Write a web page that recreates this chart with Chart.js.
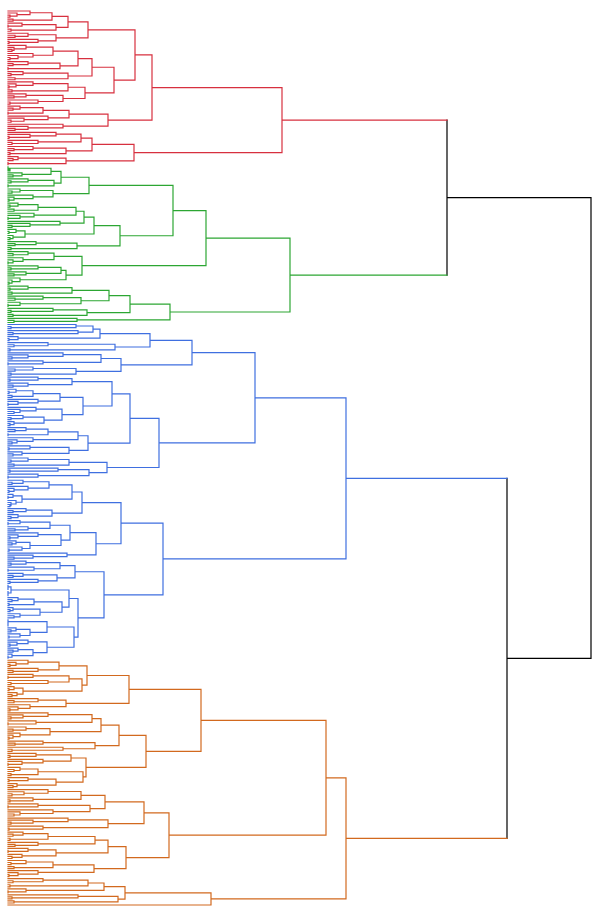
<!DOCTYPE html>
<html>
<head>
<meta charset="utf-8">
<script src="https://cdn.jsdelivr.net/npm/chart.js@4/dist/chart.umd.min.js"></script>
<style>
html,body{margin:0;padding:0;background:#fff;}
#wrap{width:592px;height:906px;position:relative;}
</style>
</head>
<body>
<div id="wrap"><canvas id="c"></canvas></div>
<script>
// Sub-trees written as "(height left right)"; a leaf is "."
// red cluster parts
const redA = "(80 (60 (44 (22 . (9 . (2 . .))) (5 . .)) (48 (14 . (0 . .)) (3 . .))) (48 (20 . (7 . .)) (30 . (1 . .))))";
const redB = "(106 (84 (70 (45 (18 . (6 . (4 . .))) (25 . (10 . (2 . .)))) (52 (20 . (5 . .)) (0 . .))) (60 (15 . (3 . .)) (7 . .))) (77 (60 (25 . (8 . (1 . .))) (4 . .)) (55 (18 . (6 . .)) (30 . (2 . .)))))";
const redC = "(100 (61 (35 (12 . (5 . .)) (0 . .)) (40 . (16 . (3 . .)))) (55 . (20 . (7 . .))))";
const redD = "(126 (84 (73 (48 . (22 . (1 . .))) (30 . (4 . .))) (58 (25 . (6 . .)) (2 . .))) (58 (10 . (5 . .)) (0 . .)))";
const redTree = `(274 (144 (127 ${redA} ${redB}) ${redC}) ${redD})`;

// green cluster parts
const greenA = "(81 (53 (43 (0 . (2 . .)) (14 . (5 . .))) (46 (20 . (3 . .)) (0 . .))) (45 (12 . (4 . .)) (25 . (6 . (1 . .)))))";
const greenB = "(112 (86 (76 (68 (30 (10 . (2 . .)) (6 . .)) (26 . (12 . (0 . .)))) (52 . (22 . (4 . .)))) (17 (8 . (1 . .)) (5 . (2 . .)))) (69 (28 . (7 . .)) (3 . .)))";
const greenC = "(74 (46 (20 . (5 . .)) (15 . (5 . (0 . .)))) (58 (53 (30 . (3 . .)) (18 . (6 . .))) (12 . (4 . (1 . .)))))";
const greenD = "(162 (122 (101 (64 (20 . (2 . .)) (4 . .)) (73 (35 . (7 . .)) (12 . (0 . .)))) (79 (45 . (3 . .)) (5 . .))) (69 . (6 . .)))";
const greenTree = `(282 (198 (165 ${greenA} ${greenB}) ${greenC}) ${greenD})`;

// blue cluster parts
const blueA = "(184 (142 (92 (85 (68 . (3 . .)) (70 . (5 . .))) (10 . (1 . .))) (107 (40 . (6 . .)) (2 . .))) (113 (93 (55 . (20 . (4 . .))) (35 . (0 . .))) (68 (25 . (7 . .)) (3 . .))))";
const blueB = "(151 (122 (104 (64 (30 . (2 . .)) (20 . (5 . .))) (75 (52 (25 (8 . (1 . .)) (4 . .)) (30 . (10 . (0 . .)))) (54 (28 . (12 . (6 . .))) (36 (15 . (3 . .)) (6 . (2 . .)))))) (80 (70 (40 (18 . (7 . .)) (0 . .)) (25 . (9 . (4 . .)))) (61 (22 . (1 . .)) (14 . (5 . .))))) (99 (61 (20 . (3 . .)) (6 . .)) (81 (50 . (2 . .)) (30 . (0 . .)))))";
const blueC = "(113 (74 (64 (41 (15 . (4 . .)) (20 . (6 . (1 . .)))) (14 (5 . (0 . .)) (8 . (3 . (2 . .))))) (44 (18 . (5 . .)) (10 . (3 . .)))) (88 (62 (42 (12 . (0 . .)) (20 . (7 . .))) (53 (30 . (10 . (2 . .))) (22 (8 . (4 . .)) (14 . (1 . .))))) (59 . (25 . (6 . .)))))";
const blueD = "(96 (67 (52 (18 . (3 . .)) (26 . (0 . .))) (49 (15 . (5 . .)) (30 . (2 . .)))) (70 (61 (3 (0 . (0 . .)) (0 . (0 . .))) (54 (26 (10 . (4 . .)) (1 . .)) (32 (5 . (2 . .)) (12 . (6 . .))))) (66 (39 (0 . (0 . (0 . .))) (22 (8 . (3 . .)) (12 . (1 . .)))) (39 (20 . (9 . (2 . .))) (25 (10 . (5 . .)) (4 . (0 . .)))))))";
const blueTree = `(338 (247 ${blueA} ${blueB}) (155 ${blueC} ${blueD}))`;

// orange cluster parts
const orangeA = "(193 (121 (79 (51 (20 . (8 . (2 . .))) (30 . (5 . .))) (74 (61 (25 . (0 . .)) (40 . (3 . .))) (15 (6 . (1 . .)) (9 . (4 . .))))) (58 (30 . (6 . .)) (22 . (10 . (2 . .))))) (138 (111 (93 (84 (40 . (15 . (3 . .))) (28 . (0 . .))) (42 (18 . (5 . .)) (12 . (5 . (1 . .))))) (87 (35 . (7 . .)) (55 . (4 . .)))) (78 (63 (28 . (2 . .)) (35 . (14 . (0 . .)))) (75 (30 (12 . (6 . .)) (3 . .)) (48 (20 . (1 . .)) (9 . (5 . .)))))))";
const orangeB = "(161 (136 (97 (73 (40 . (16 . (4 . .))) (25 . (2 . .))) (82 (30 . (0 . .)) (45 . (12 . (6 . .))))) (100 (60 . (25 . (3 . .))) (35 . (1 . .)))) (118 (100 (87 (40 (15 . (5 . .)) (2 . .)) (30 . (7 . .))) (48 (20 . (0 . .)) (14 . (4 . .)))) (86 (45 (18 . (3 . .)) (6 . .)) (30 . (10 . (1 . .))))))";
const orangeC = "(203 (117 (96 (80 (35 . (5 . .)) (2 . .)) (18 . (0 . .))) (110 (70 . (4 . .)) (6 . .))) .)";
const orangeTree = `(338 (318 ${orangeA} ${orangeB}) ${orangeC})`;

const clusterTrees = [redTree, greenTree, blueTree, orangeTree];
const clusterColors = ['#d7303f', '#2ca633', '#3f6fe0', '#d2691e'];
const aboveColor = '#000000';
// top merges: red+green, blue+orange, root
const topHeights = [439, 499, 583];

function parseTree(str, color) {
  const tok = str.match(/\(|\)|\.|\d+(?:\.\d+)?/g);
  let p = 0;
  function node() {
    const t = tok[p++];
    if (t === '.') return {leaf: true, h: 0, color};
    if (t !== '(') throw new Error('bad token ' + t + ' at ' + p);
    const h = +tok[p++];
    const a = node();
    const b = node();
    if (tok[p++] !== ')') throw new Error('missing ) at ' + p);
    return {h, a, b, color};
  }
  const r = node();
  if (p !== tok.length) throw new Error('extra tokens at ' + p + ' of ' + tok.length);
  return r;
}

const clusters = clusterTrees.map((s, i) => parseTree(s, clusterColors[i]));
const root = {h: topHeights[2], color: aboveColor,
  a: {h: topHeights[0], color: aboveColor, a: clusters[0], b: clusters[1]},
  b: {h: topHeights[1], color: aboveColor, a: clusters[2], b: clusters[3]}};

let leafCount = 0;
function place(n) {
  if (n.leaf) { n.y = leafCount++; return; }
  place(n.a); place(n.b);
  n.y = (n.a.y + n.b.y) / 2;
}
place(root);

const segs = {};
function addSeg(color, pts) {
  if (!segs[color]) segs[color] = [];
  const arr = segs[color];
  pts.forEach(p => arr.push({x: p[0], y: p[1]}));
  arr.push({x: pts[pts.length - 1][0], y: null});
}
function emit(n) {
  if (n.leaf) return;
  const a = n.a, b = n.b;
  if (a.color === n.color && b.color === n.color) {
    addSeg(n.color, [[a.h, a.y], [n.h, a.y], [n.h, b.y], [b.h, b.y]]);
  } else {
    addSeg(a.color, [[a.h, a.y], [n.h, a.y]]);
    addSeg(b.color, [[b.h, b.y], [n.h, b.y]]);
    addSeg(n.color, [[n.h, a.y], [n.h, b.y]]);
  }
  emit(a); emit(b);
}
emit(root);

const order = clusterColors.concat([aboveColor]);
const datasets = order.filter(c => segs[c]).map(c => ({
  data: segs[c],
  borderColor: c,
  borderWidth: 1.2,
  pointRadius: 0,
  pointHoverRadius: 0,
  showLine: true,
  spanGaps: false,
  fill: false,
  tension: 0,
  clip: false,
  borderCapStyle: 'square',
  borderJoinStyle: 'miter'
}));

new Chart(document.getElementById('c'), {
  type: 'scatter',
  data: {datasets},
  options: {
    responsive: true,
    maintainAspectRatio: false,
    animation: false,
    events: [],
    layout: {padding: {left: 8, right: 1, top: 11, bottom: 1}},
    scales: {
      x: {type: 'linear', min: 0, max: topHeights[2], display: false},
      y: {type: 'linear', min: 0, max: leafCount - 1, reverse: true, display: false}
    },
    plugins: {legend: {display: false}, tooltip: {enabled: false}}
  }
});
</script>
</body>
</html>
